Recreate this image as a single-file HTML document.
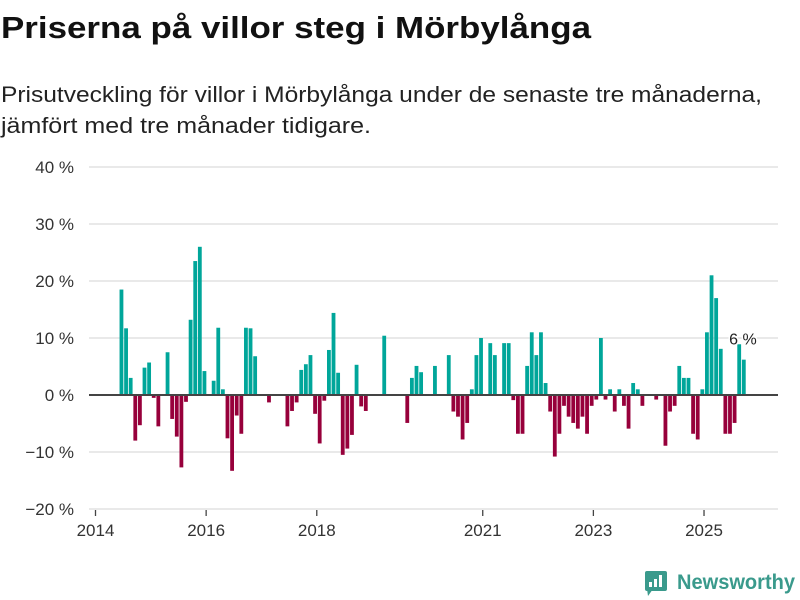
<!DOCTYPE html>
<html><head><meta charset="utf-8"><style>
html,body{margin:0;padding:0;background:#fff;}
svg{display:block;font-family:"Liberation Sans",sans-serif;}
</style></head><body>
<svg id="chart" width="800" height="600" viewBox="0 0 800 600" xmlns="http://www.w3.org/2000/svg">
<text x="1" y="38" font-size="31" font-weight="bold" fill="#111" textLength="590" lengthAdjust="spacingAndGlyphs">Priserna på villor steg i Mörbylånga</text>
<text x="1" y="102" font-size="22" fill="#222" textLength="761" lengthAdjust="spacingAndGlyphs">Prisutveckling för villor i Mörbylånga under de senaste tre månaderna,</text>
<text x="1" y="133" font-size="22" fill="#222" textLength="370" lengthAdjust="spacingAndGlyphs">jämfört med tre månader tidigare.</text>
<g id="grid"></g>
<g id="yaxis"></g>
<g id="xaxis"></g>
<g id="bars"></g>
<g id="zero"></g>
<g id="anno"></g>
<g transform="translate(645,571)">
<rect x="0" y="0" width="22" height="20" rx="2" fill="#3a9a8c"/>
<polygon points="2,18 8,18 3,25" fill="#3a9a8c"/>
<rect x="4" y="11" width="3" height="5" fill="#fff"/>
<rect x="9" y="8" width="3" height="8" fill="#fff"/>
<rect x="14" y="4" width="3" height="12" fill="#fff"/>
<text x="32" y="18" font-size="21" font-weight="bold" fill="#3a9a8c" textLength="118" lengthAdjust="spacingAndGlyphs">Newsworthy</text>
</g>
</svg>
<script>
const startYear = 2014;
const startMonthIndex = 5;
const values = [18.5,11.7,3,-8,-5.3,4.8,5.7,-0.5,-5.5,0,7.5,-4.2,-7.3,-12.7,-1.2,13.2,23.5,26,4.2,0,2.5,11.8,1,-7.6,-13.3,-3.6,-6.8,11.8,11.7,6.8,0,0,-1.3,0,0,0,-5.5,-2.8,-1.3,4.4,5.4,7,-3.3,-8.5,-1,7.9,14.4,3.9,-10.5,-9.4,-7,5.3,-2,-2.8,0,0,0,10.4,0,0,0,0,-4.9,3,5.1,4,0,0,5.1,0,0,7,-2.9,-3.8,-7.8,-4.9,1,7,10,0,9.1,7,0,9.1,9.1,-0.9,-6.8,-6.8,5.1,11,7,11,2.1,-2.9,-10.8,-6.8,-1.9,-3.8,-4.9,-5.9,-3.8,-6.8,-1.9,-0.8,10,-0.8,1,-2.9,1,-1.9,-5.9,2.1,1,-1.9,0,0,-0.8,0,-8.9,-2.9,-1.9,5.1,3,3,-6.8,-7.8,1,11,21,17,8.1,-6.8,-6.8,-4.9,8.9,6.2];
const yTicks = [40,30,20,10,0,-10,-20];
const yTickLabels = ["40 %","30 %","20 %","10 %","0 %","\u221210 %","\u221220 %"];
const xTickYears = [2014,2016,2018,2021,2023,2025];
const lastLabel = "6 %";

const NS = "http://www.w3.org/2000/svg";
const x0 = 95.5, pxPerMonth = 4.61;
function xScale(monthIdx){ return x0 + monthIdx*pxPerMonth; }
function yScale(v){ return 395 - v*5.7; }
function mk(tag, attrs, parent){ const e=document.createElementNS(NS,tag); for(const k in attrs) e.setAttribute(k,attrs[k]); parent.appendChild(e); return e; }

const grid=document.getElementById('grid'), yaxis=document.getElementById('yaxis');
yTicks.forEach((t,i)=>{
  if(t!==0){
    const l=mk('line',{x1:89,x2:778,y1:yScale(t),y2:yScale(t),stroke:'#e2e2e2','stroke-width':1.5},grid);
    
    
  }
  const tx=mk('text',{x:74,y:yScale(t)+6,'text-anchor':'end','font-size':17,fill:'#333'},yaxis);
  tx.textContent=yTickLabels[i];
  
  
});
const xaxis=document.getElementById('xaxis');
xTickYears.forEach(yr=>{
  const xx=xScale((yr-startYear)*12);
  const tk=mk('line',{x1:xx,x2:xx,y1:510,y2:516,stroke:'#444','stroke-width':1.3},xaxis);
  
  
  const tx=mk('text',{x:xx,y:536,'text-anchor':'middle','font-size':17,fill:'#333'},xaxis);
  tx.textContent=String(yr);
  
  
});
const bars=document.getElementById('bars');
values.forEach((v,i)=>{
  if(v===0) return;
  const m=startMonthIndex+i;
  const y=Math.min(yScale(v),yScale(0)), h=Math.abs(yScale(v)-yScale(0));
  const r=mk('rect',{x:xScale(m)+1,y:y,width:pxPerMonth-0.8,height:h,fill:v>0?'#00a69a':'#97003b'},bars);
  
  
});
const zl=mk('line',{x1:89,x2:778,y1:yScale(0),y2:yScale(0),stroke:'#444','stroke-width':2},document.getElementById('zero'));


const lastIdx=startMonthIndex+values.length-1;
const at=mk('text',{x:xScale(lastIdx)+2,y:yScale(values[values.length-1])-15,'text-anchor':'middle','font-size':16,fill:'#222',stroke:'#fff','stroke-width':3,'paint-order':'stroke'},document.getElementById('anno'));
at.textContent=lastLabel;


</script>
</body></html>
